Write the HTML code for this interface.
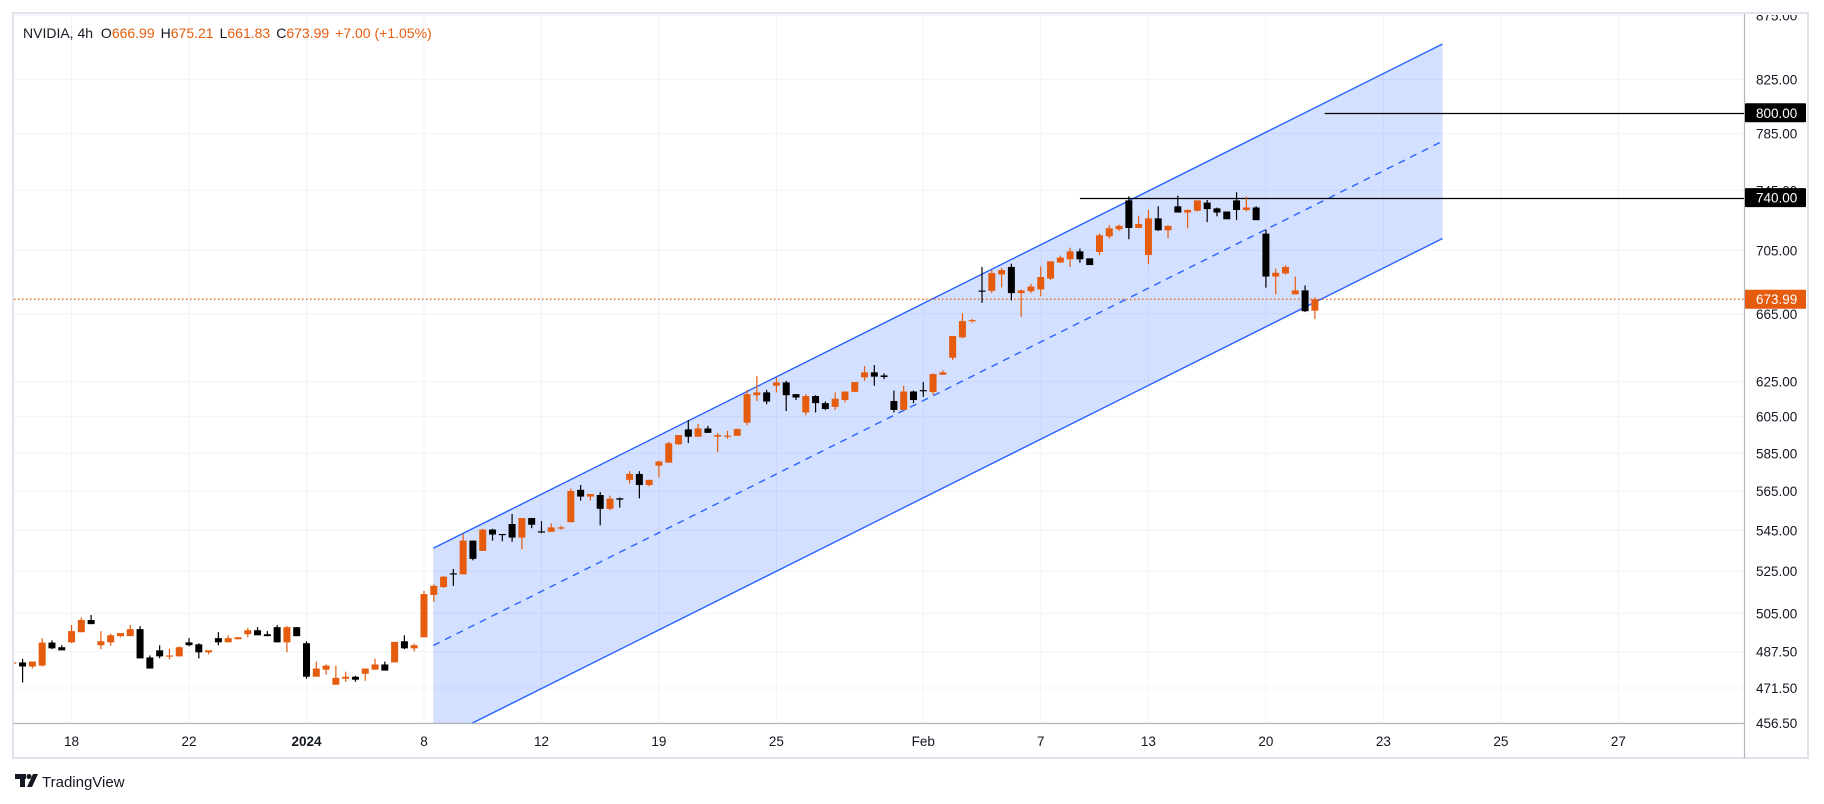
<!DOCTYPE html>
<html><head><meta charset="utf-8"><style>
html,body{margin:0;padding:0;background:#fff;width:1824px;height:804px;overflow:hidden}
svg{display:block;font-family:"Liberation Sans",sans-serif}
</style></head><body>
<svg id="chart" width="1824" height="804" viewBox="0 0 1824 804">
<defs><clipPath id="plotclip"><rect x="14" y="14" width="1730.5" height="709.5"/></clipPath></defs>
<rect x="0" y="0" width="1824" height="804" fill="#fff"/>
<g id="grid"></g>
<g id="drawings" clip-path="url(#plotclip)"></g>
<g id="candles" clip-path="url(#plotclip)"></g>
<g id="axes"></g>
<text x="23" y="38" font-size="14" fill="#131722">NVIDIA, 4h <tspan dx="4">O</tspan><tspan fill="#e65c0e">666.99</tspan><tspan dx="6">H</tspan><tspan fill="#e65c0e">675.21</tspan><tspan dx="6">L</tspan><tspan fill="#e65c0e">661.83</tspan><tspan dx="6">C</tspan><tspan fill="#e65c0e">673.99</tspan><tspan dx="6" fill="#e65c0e">+7.00 (+1.05%)</tspan></text>
<g>
<rect x="15" y="774" width="11" height="5" fill="#131722"/><rect x="20" y="774" width="5" height="13" fill="#131722"/>
<circle cx="29" cy="776.5" r="2.5" fill="#131722"/><polygon points="33,774 38,774 32,787 27,787" fill="#131722"/>
<text x="42" y="787" font-size="15" fill="#131722">TradingView</text>
</g>
</svg>
<script>
const opens=[482.6,482.7,480.9,481.3,491.6,489.5,491.7,496.3,501.9,490.4,491.7,494.5,494.5,497.7,484.9,488.1,485.4,485.4,491.7,490.8,487.2,493.6,491.7,493.1,495.4,497.2,495.4,498.6,491.7,498.6,491.3,476.4,479.5,472.9,475.5,476.4,477.7,479.5,481.8,482.7,492.2,489.0,494.0,513.6,517.3,523.9,523.4,539.9,534.8,545.4,543.2,548.2,541.4,551.2,544.5,544.3,546.1,549.1,565.7,562.2,563.0,555.9,561.3,570.9,574.0,568.2,578.4,580.0,589.9,598.0,594.0,598.5,594.0,594.5,594.5,601.7,617.1,618.7,622.5,624.4,617.7,607.4,616.6,612.6,610.5,614.4,619.0,627.3,630.2,628.4,613.8,608.8,619.2,620.0,618.9,628.8,638.7,650.8,660.6,679.4,679.2,689.5,694.3,677.8,679.0,680.1,686.9,697.1,699.2,704.3,699.8,703.9,714.1,718.8,738.1,719.6,702.0,726.0,718.1,734.1,729.9,731.1,736.6,732.7,730.6,738.1,731.6,733.3,715.9,688.2,690.2,677.0,679.5,666.99];
const highs=[482.8,484.3,483.1,493.6,492.6,490.4,499.6,503.1,504.2,496.8,495.6,495.9,499.6,499.1,485.8,490.4,488.9,489.9,493.6,491.3,488.1,496.3,494.9,494.0,498.3,498.6,496.8,499.6,499.1,498.6,492.2,483.1,481.8,481.3,478.6,476.8,480.0,484.3,483.1,491.9,494.9,491.1,515.5,518.6,522.5,526.0,543.2,539.9,545.8,545.8,543.2,553.3,551.2,551.2,549.6,548.5,547.3,566.5,568.2,563.5,564.5,562.7,561.7,575.5,575.5,570.9,581.0,591.3,594.9,603.1,601.0,599.9,596.1,597.2,598.5,620.1,628.0,620.1,627.3,625.3,617.7,617.7,617.1,613.5,618.7,619.2,624.6,633.8,634.4,629.6,619.7,622.5,619.7,624.6,629.6,631.5,651.6,665.3,661.8,694.3,692.3,693.8,696.4,680.0,683.7,694.7,697.9,701.6,706.7,706.1,699.8,715.9,721.4,721.8,740.9,727.8,731.6,734.1,721.4,741.3,732.0,738.1,738.4,733.3,730.6,743.6,740.9,734.1,718.6,693.2,695.3,688.2,682.6,675.21];
const lows=[482.5,473.9,480.1,480.9,488.6,488.1,491.4,496.3,500.0,488.6,490.1,494.0,494.5,484.5,480.0,484.5,484.0,485.4,489.9,484.5,486.3,490.4,491.7,493.1,494.0,494.9,494.5,491.7,487.2,494.5,475.5,476.4,477.3,472.9,474.2,474.2,474.6,479.5,479.1,482.7,488.6,487.6,494.0,510.4,517.0,517.9,523.4,530.2,534.8,539.9,539.6,539.3,535.6,546.1,543.6,544.3,545.4,549.1,560.1,560.1,547.5,555.2,556.5,569.0,561.3,567.5,572.2,580.0,589.5,590.6,594.0,596.1,585.6,592.9,594.5,600.2,613.8,612.0,618.7,608.2,614.4,605.8,607.4,608.8,608.8,613.1,619.0,625.3,622.5,626.3,607.4,608.8,612.6,616.2,617.4,628.8,637.3,650.2,659.6,671.8,677.8,681.4,673.3,663.2,677.8,675.8,685.9,696.9,694.3,696.9,695.5,702.0,712.6,717.6,712.2,719.6,696.0,717.6,712.8,729.9,719.4,730.6,723.5,727.4,725.4,724.8,730.6,724.8,681.2,677.0,689.5,677.0,666.2,661.83];
const closes=[482.7,480.9,483.1,491.6,489.0,488.1,496.8,501.9,500.0,492.2,494.9,495.9,497.7,484.5,480.0,485.4,485.8,489.5,490.4,487.2,488.1,491.7,493.6,494.0,497.2,494.9,494.5,491.7,498.6,494.5,476.4,480.0,481.3,475.9,476.4,475.1,480.0,481.8,479.1,491.9,489.0,490.4,514.0,517.9,522.3,523.4,539.9,530.9,545.4,542.9,542.9,541.4,551.2,547.8,543.9,546.5,546.5,565.1,562.2,563.5,555.9,561.1,560.6,574.0,568.2,570.9,580.6,590.4,594.9,594.0,598.5,596.1,594.9,594.6,598.2,617.7,618.7,613.5,624.4,617.1,615.8,616.6,612.6,609.3,615.1,619.2,624.6,630.2,627.7,627.5,608.8,619.2,614.4,619.5,629.2,630.2,651.6,660.6,661.2,679.0,690.4,692.3,677.8,679.5,681.9,687.9,697.9,700.3,704.3,699.2,695.5,714.8,719.4,721.0,719.6,722.2,726.0,718.1,721.0,729.9,731.6,738.1,732.2,729.9,725.4,731.6,733.3,724.8,688.2,690.6,694.3,679.5,666.6,673.99];
const dateLabels=['18','22','2024','8','12','19','25','Feb','7','13','20','23','25','27'];
const dateBars=[6,18,30,42,54,66,78,93,105,116,128,140,152,164];
const priceTicks=[875,825,785,745,705,665,625,605,585,565,545,525,505,487.5,471.5,456.5];
const lastPrice=673.99;
const levelPrices=[740,800];
const levelStartBars=[109.0,134.0];
const channelStartBar=42.95, channelEndBar=146.04;
const upperStart=536.1, upperEnd=852.2, lowerStart=448.4, lowerEnd=712.7;

const NS='http://www.w3.org/2000/svg';
const X0=12.8, BW=9.79, AXISX=1744.5, AXISY=723.5;
function xOf(i){return X0+BW*i;}
function yOf(p){return 613.3-Math.log(p/505)*1088;}
function mk(tag,attrs,parent){const e=document.createElementNS(NS,tag);for(const k in attrs)e.setAttribute(k,attrs[k]);parent.appendChild(e);return e;}
const grid=document.getElementById('grid'),draw=document.getElementById('drawings'),cg=document.getElementById('candles'),ax=document.getElementById('axes');

priceTicks.forEach(p=>{const y=yOf(p);const l=mk('line',{x1:14,x2:AXISX,y1:y,y2:y,stroke:'#f0f3fa','stroke-width':1},grid);

});
dateBars.forEach(b=>{const x=xOf(b);const l=mk('line',{x1:x,x2:x,y1:14,y2:AXISY,stroke:'#f0f3fa','stroke-width':1},grid);

});

const xs=xOf(channelStartBar), xe=xOf(channelEndBar);
const yu1=yOf(upperStart), yu2=yOf(upperEnd), yl1=yOf(lowerStart), yl2=yOf(lowerEnd);
const band=mk('polygon',{points:`${xs},${yu1} ${xe},${yu2} ${xe},${yl2} ${xs},${yl1}`,fill:'rgba(41,98,255,0.2)'},draw);


const ul=mk('line',{x1:xs,y1:yu1,x2:xe,y2:yu2,stroke:'#2962ff','stroke-width':1.4},draw);


const ll=mk('line',{x1:xs,y1:yl1,x2:xe,y2:yl2,stroke:'#2962ff','stroke-width':1.4},draw);


const ml=mk('line',{x1:xs,y1:(yu1+yl1)/2,x2:xe,y2:(yu2+yl2)/2,stroke:'#2962ff','stroke-width':1.4,'stroke-dasharray':'7,6'},draw);



levelPrices.forEach((p,k)=>{const y=Math.round(yOf(p))+0.5;const l=mk('line',{x1:xOf(levelStartBars[k]),x2:AXISX,y1:y,y2:y,stroke:'#000','stroke-width':1.2},draw);

});
{const y=yOf(lastPrice);const l=mk('line',{x1:14,x2:AXISX,y1:y,y2:y,stroke:'#e65c0e','stroke-width':1.2,'stroke-dasharray':'1.5,2.5'},draw);

}

for(let i=0;i<opens.length;i++){
  const up=closes[i]>=opens[i], col=up?'#e65c0e':'#000', x=xOf(i);
  const g=mk('g',{},cg);
  
  
  mk('line',{x1:x,x2:x,y1:yOf(highs[i]),y2:yOf(lows[i]),stroke:col,'stroke-width':1.2},g);
  const yt=yOf(Math.max(opens[i],closes[i])), yb=yOf(Math.min(opens[i],closes[i]));
  mk('rect',{x:x-3.5,y:yt,width:7,height:Math.max(1.2,yb-yt),fill:col},g);
}

priceTicks.forEach(p=>{const y=yOf(p);const t=mk('text',{x:1756,y:y+5,'font-size':13.5,fill:'#131722'},ax);t.textContent=p.toFixed(2);

});
mk('rect',{x:1745,y:0,width:79,height:15,fill:'#fff'},ax);
mk('rect',{x:13,y:13,width:1795,height:745,fill:'none',stroke:'#e0e3eb','stroke-width':2},ax);
mk('line',{x1:AXISX,x2:AXISX,y1:14,y2:758,stroke:'#b2b5be','stroke-width':1.2},ax);
mk('line',{x1:14,x2:AXISX,y1:AXISY,y2:AXISY,stroke:'#b2b5be','stroke-width':1.2},ax);
dateLabels.forEach((s,k)=>{const t=mk('text',{x:xOf(dateBars[k]),y:746,'font-size':13.5,fill:'#131722','text-anchor':'middle','font-weight':s==='2024'?'bold':'normal'},ax);t.textContent=s;

});
function badge(p,bg,name){const y=yOf(p);const g=mk('g',{},ax);


mk('rect',{x:AXISX+0.5,y:y-9.5,width:61,height:19,fill:bg,rx:1},g);
const t=mk('text',{x:1756,y:y+5,'font-size':13.5,fill:'#fff'},g);t.textContent=p.toFixed(2);}
badge(800,'#000','level-800-badge');
badge(740,'#000','level-740-badge');
badge(lastPrice,'#e65c0e','last-price-badge');
</script>
</body></html>
